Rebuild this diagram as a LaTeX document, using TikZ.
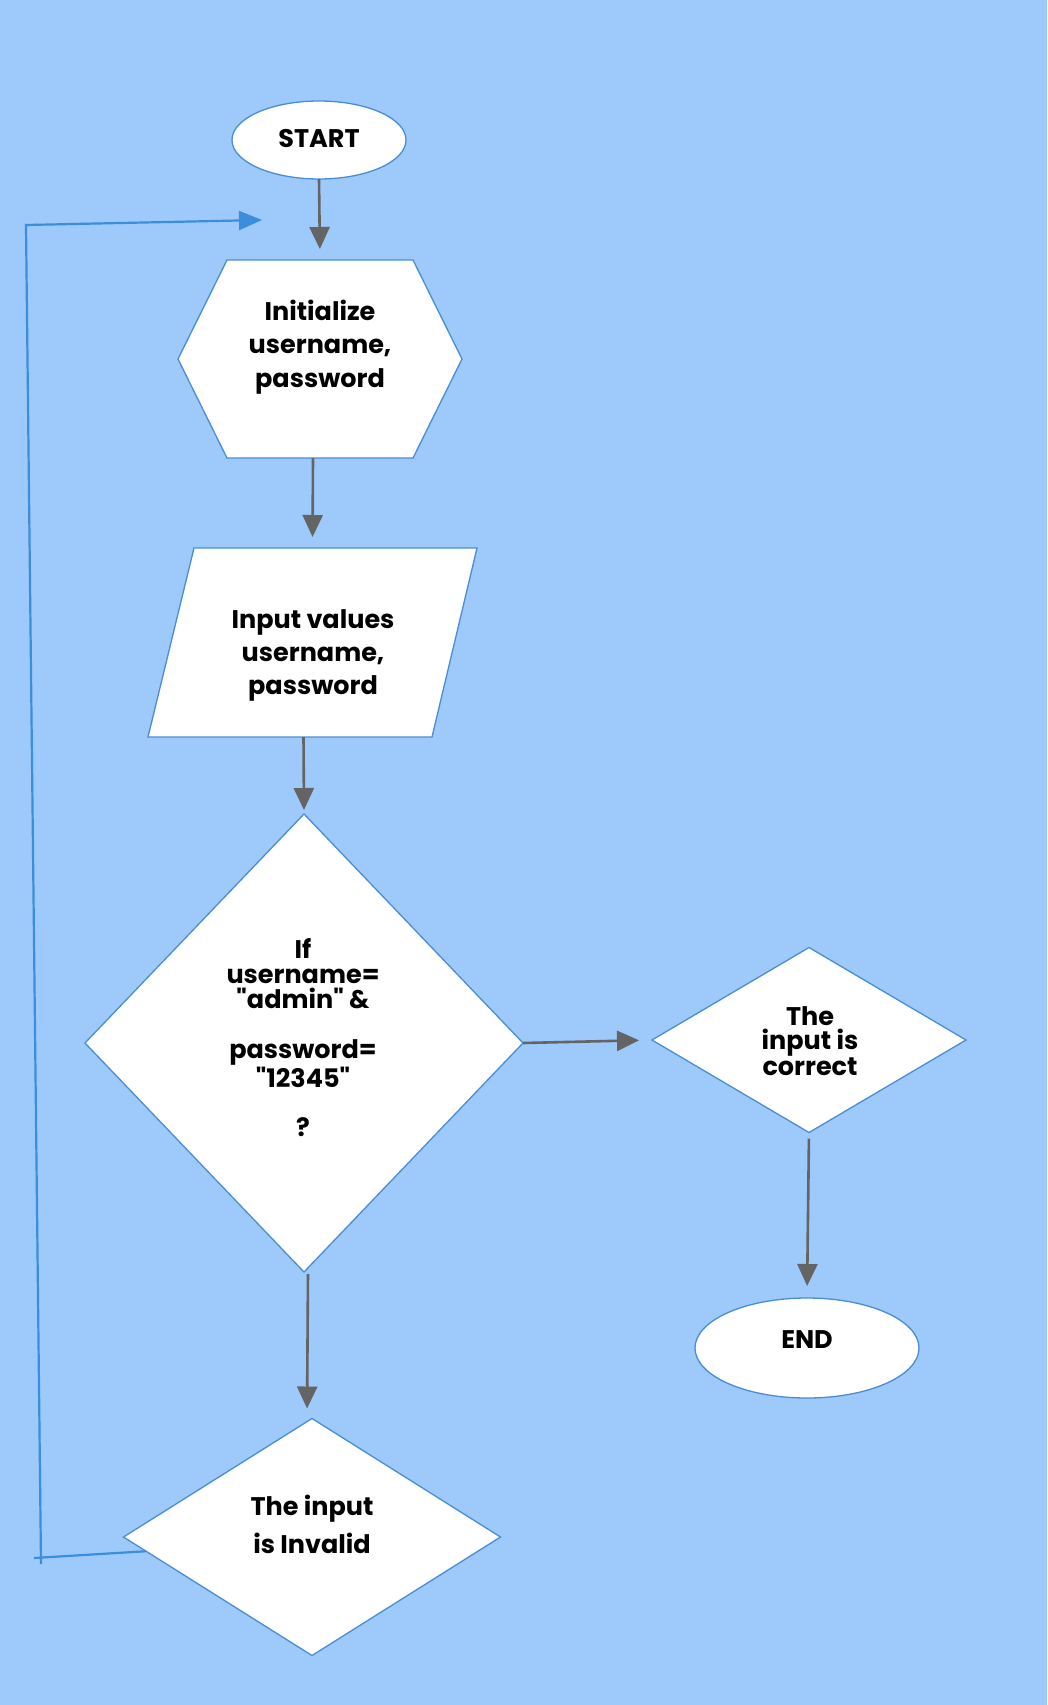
\documentclass[tikz,border=0pt]{standalone}
\usepackage{fontspec}
\setmainfont{Poppins}[Ligatures=TeXOff]
\usetikzlibrary{shapes.geometric,arrows.meta,calc}
\definecolor{bg}{HTML}{9DC9FB}
\definecolor{edge}{HTML}{4A8DD2}
\definecolor{flow}{HTML}{646464}
\definecolor{loopc}{HTML}{3C8EDD}
\begin{document}
\begin{tikzpicture}[x=1pt,y=-1pt,
  shapeline/.style={draw=edge, line width=1.3pt, fill=white},
  boxnode/.style={inner sep=0pt, outer sep=0pt},
  flowarrow/.style={draw=flow, line width=2.6pt, -{Triangle[length=22pt,width=20pt]}},
  loopline/.style={draw=loopc, line width=2.2pt},
  txt/.style={font=\bfseries\fontsize{25.5}{25}\selectfont, align=center, text=black, inner sep=0pt}
]
\fill[bg] (0,0) rectangle (1047,1705);
\useasboundingbox (0,0) rectangle (1047,1705);

% START
\node[ellipse, shapeline, boxnode, minimum width=174pt, minimum height=78pt] (start) at (319,140) {};
\node[txt] (starttxt) at (319,139) {START};

% Initialize (hexagon)
\node[boxnode, minimum width=284pt, minimum height=198pt] (init) at (320,359) {};
\draw[shapeline] (init.west) -- ([xshift=49pt]init.north west) -- ([xshift=-49pt]init.north east)
  -- (init.east) -- ([xshift=-49pt]init.south east) -- ([xshift=49pt]init.south west) -- cycle;
\node[txt, font=\bfseries\fontsize{25.5}{33.5}\selectfont] (inittxt) at (320,347) {Initialize\\username,\\password};

% Input (parallelogram)
\node[boxnode, minimum width=329pt, minimum height=189pt] (para) at (312.5,642.5) {};
\draw[shapeline] ([xshift=46pt]para.north west) -- (para.north east)
  -- ([xshift=-45pt]para.south east) -- (para.south west) -- cycle;
\node[txt, font=\bfseries\fontsize{25.5}{33}\selectfont] (paratxt) at (313,655) {Input values\\username,\\password};

% Decision
\node[diamond, shapeline, boxnode, minimum width=438pt, minimum height=458pt] (dec) at (304,1043) {};
\node[txt] (dectxt) at (303,1038) {If\\username=\\"admin" \&\\[25pt]password=\\"12345"\\[25pt]?};

% Correct
\node[diamond, shapeline, boxnode, minimum width=314pt, minimum height=185pt] (ok) at (809,1040) {};
\node[txt, font=\bfseries\fontsize{25.5}{24}\selectfont] (oktxt) at (810,1041) {The\\input is\\correct};

% END
\node[ellipse, shapeline, boxnode, minimum width=224pt, minimum height=100pt] (endn) at (807,1348) {};
\node[txt] (endtxt) at (807,1340) {END};

% Invalid
\node[diamond, shapeline, boxnode, minimum width=377pt, minimum height=237pt] (inv) at (312,1537) {};
\node[txt, font=\bfseries\fontsize{25.5}{38}\selectfont] (invtxt) at (312,1524) {The input\\is Invalid};

% flow arrows
\draw[flowarrow, shorten >=11pt] (start.south) -- (init.north);
\draw[flowarrow, shorten >=11pt] ([xshift=-7pt]init.south) -- (para.north);
\draw[flowarrow, shorten >=4pt] ([xshift=-9pt]para.south) -- (dec.north);
\draw[flowarrow, shorten >=13pt] (dec.east) -- (ok.west);
\draw[flowarrow, shorten <=6pt, shorten >=12pt] (ok.south) -- (endn.north);
\draw[flowarrow, shorten <=2pt, shorten >=10pt] ([xshift=4pt]dec.south) -- ([xshift=-5pt]inv.north);

% loop back
\coordinate (lp1) at (34,1558);
\coordinate (lp2) at (41,1564);
\coordinate (lp3) at (26,225);
\coordinate (lp4) at (262,220);
\draw[loopline] ($(inv.west)!0.12!(inv.south)$) -- (lp1);
\draw[loopline, -{Triangle[length=23pt,width=19pt]}] (lp2) -- (lp3) -- (lp4);
\end{tikzpicture}
\end{document}
